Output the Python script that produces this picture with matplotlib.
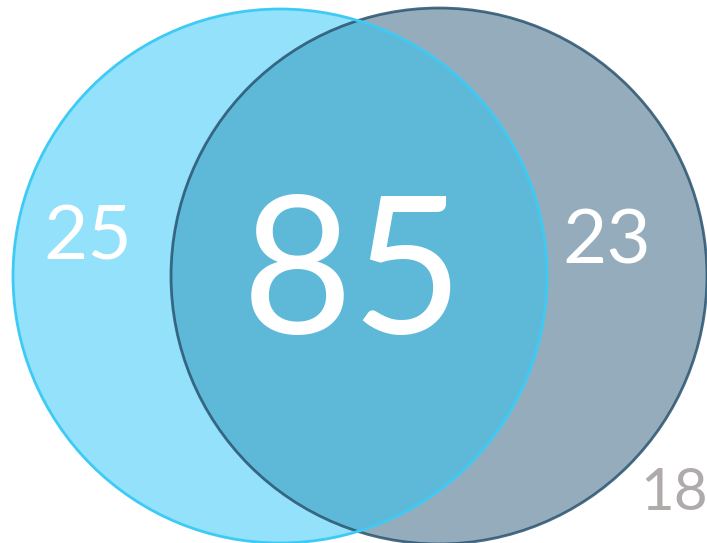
import matplotlib
matplotlib.use("Agg")
import matplotlib.pyplot as plt
from matplotlib.patches import Circle

labels = ["A only", "Both", "B only", "Neither"]
values = [25, 85, 23, 18]

fig = plt.figure(figsize=(7.07, 5.43), dpi=100)
ax = fig.add_axes([0, 0, 1, 1])
ax.set_xlim(0, 707)
ax.set_ylim(543, 0)
ax.axis("off")

# right circle (B)
ax.add_patch(Circle((439, 276), 268, facecolor="#2B5A78", alpha=0.5, edgecolor="none", zorder=1))
# left circle (A)
ax.add_patch(Circle((280, 276), 267, facecolor="#29C5F6", alpha=0.5, edgecolor="none", zorder=2))
# edges
ax.add_patch(Circle((439, 276), 268, facecolor="none", edgecolor="#2A5470", lw=2, alpha=0.85, zorder=3))
ax.add_patch(Circle((280, 276), 267, facecolor="none", edgecolor="#3DCBF5", lw=2, zorder=4))

font = dict(family=["Lato", "DejaVu Sans"], fontweight="normal")
ax.text(88, 238, str(values[0]), color="white", fontsize=55, ha="center", va="center", zorder=5, **font)
ax.text(353, 279, str(values[1]), color="white", fontsize=138, ha="center", va="center", zorder=5, **font)
ax.text(607, 242, str(values[2]), color="white", fontsize=55, ha="center", va="center", zorder=5, **font)
ax.text(674, 494, str(values[3]), color="#B0ABAB", fontsize=42, ha="center", va="center", zorder=5, **font)

fig.savefig("out.png", dpi=100)
